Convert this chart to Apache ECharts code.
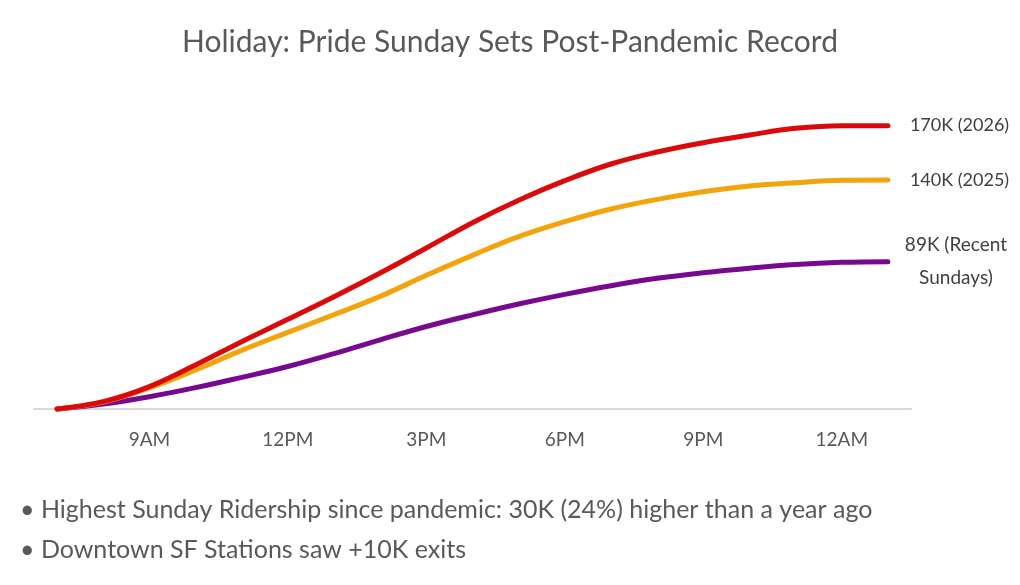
<!DOCTYPE html>
<html>
<head>
<meta charset="utf-8">
<script src="https://cdn.jsdelivr.net/npm/echarts@6/dist/echarts.min.js"></script>
<style>
    html, body { margin: 0; padding: 0; background: #fff; }
    #main { width: 1020px; height: 585px; }
</style>
</head>
<body>
<div id="main"></div>
<script>
// hours 7AM .. 1AM
var hours = ['7AM','8AM','9AM','10AM','11AM','12PM','1PM','2PM','3PM','4PM','5PM','6PM','7PM','8PM','9PM','10PM','11PM','12AM','1AM'];
var shownHours = ['9AM','12PM','3PM','6PM','9PM','12AM'];

// cumulative riders (K)
var pride2026 = [0, 4.4, 13.4, 26.4, 40.4, 53.8, 67.4, 81.6, 96.6, 111.8, 125.2, 137, 147, 154.2, 159.8, 164.4, 168.4, 170, 170];
var pride2025 = [0, 4.2, 12.6, 23.4, 35.2, 46, 56.6, 67.6, 80.2, 92.2, 103.4, 112.4, 120, 125.8, 130.4, 133.8, 135.8, 137.2, 137.4];
var recentSundays = [0, 3, 7.4, 12.8, 19, 25.5, 33.2, 41.5, 49.5, 56.5, 63, 68.8, 74, 78.4, 81.8, 84.5, 86.7, 88, 88.4];

var endLabels = ['170K (2026)', '140K (2025)', '89K (Recent\nSundays)'];
var notes = [
    '\u2022 Highest Sunday Ridership since pandemic: 30K (24%) higher than a year ago',
    '\u2022 Downtown SF Stations saw +10K exits'
];

var font = 'Lato';

var myChart = echarts.init(document.getElementById('main'));

function lineSeries(name, data, color, label, extra) {
    var endLabel = {
        show: true,
        formatter: label,
        color: '#404040',
        fontFamily: font,
        fontSize: 18,
        lineHeight: 33,
        distance: 22
    };
    if (extra) {
        for (var k in extra) endLabel[k] = extra[k];
    }
    return {
        name: name,
        type: 'line',
        data: data,
        smooth: 0.4,
        symbol: 'none',
        clip: false,
        lineStyle: { color: color, width: 5, cap: 'round' },
        itemStyle: { color: color },
        endLabel: endLabel,
        z: name == 'recent' ? 1 : (name == '2025' ? 2 : 3)
    };
}

var option = {
    backgroundColor: '#fff',
    animation: false,
    title: [
        {
            text: 'Holiday: Pride Sunday Sets Post-Pandemic Record',
            left: 'center',
            top: 22,
            textStyle: { fontFamily: font, fontWeight: 'normal', fontSize: 30, color: '#595959' }
        },
        {
            text: notes.join('\n'),
            left: 15,
            top: 485,
            textStyle: { fontFamily: font, fontWeight: 'normal', fontSize: 25, lineHeight: 40, color: '#595959' }
        }
    ],
    grid: {
        left: 34,
        right: 109,
        top: 109,
        bottom: 176
    },
    xAxis: {
        type: 'category',
        data: hours,
        boundaryGap: true,
        axisLine: { lineStyle: { color: '#d9d9d9', width: 2 } },
        axisTick: { show: false },
        axisLabel: {
            interval: function (idx, value) { return shownHours.indexOf(value) >= 0; },
            color: '#595959',
            fontFamily: font,
            fontSize: 19,
            margin: 21
        }
    },
    yAxis: {
        type: 'value',
        min: 0,
        max: 180,
        show: false,
        splitLine: { show: false }
    },
    series: [
        lineSeries('recent', recentSundays, '#77098f', endLabels[2], { align: 'center', distance: 68, fontSize: 19 }),
        lineSeries('2025', pride2025, '#f3a30b', endLabels[1]),
        lineSeries('2026', pride2026, '#da0a0a', endLabels[0])
    ]
};

if (option && typeof option === "object") {
    myChart.setOption(option, true);
}
</script>
</body>
</html>
